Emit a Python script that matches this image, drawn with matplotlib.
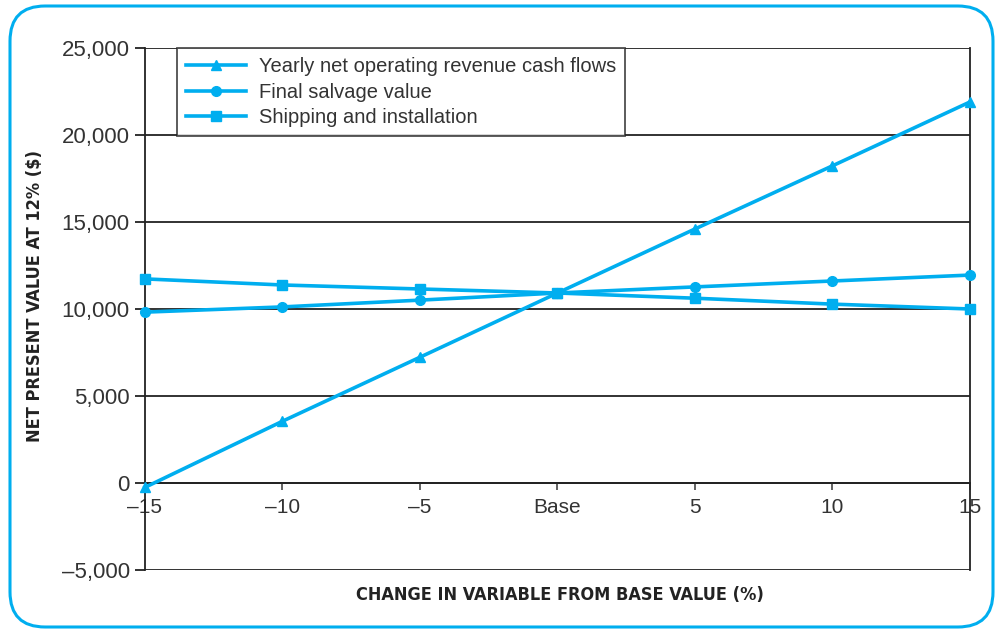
import numpy as np
import matplotlib
matplotlib.use("Agg")
import matplotlib.pyplot as plt
from matplotlib.patches import FancyBboxPatch

# change from base value (%)
x_vals = [-15, -10, -5, 0, 5, 10, 15]
x_labels = ['\u201315', '\u201310', '\u20135', 'Base', '5', '10', '15']

revenue = [-250, 3550, 7230, 10920, 14600, 18230, 21900]
salvage = [9820, 10120, 10510, 10920, 11270, 11610, 11950]
shipping = [11730, 11380, 11150, 10920, 10620, 10280, 10000]

y_ticks = [-5000, 0, 5000, 10000, 15000, 20000, 25000]
y_labels = ['\u20135,000', '0', '5,000', '10,000', '15,000', '20,000', '25,000']

blue = '#00AEEF'
plt.rcParams['font.family'] = ['Liberation Sans', 'DejaVu Sans']

fig = plt.figure(figsize=(10.03, 6.33), dpi=100)
W, H = 1003, 633
ax = fig.add_axes([145 / W, 1 - 570 / H, (970 - 145) / W, (570 - 48) / H])

# rounded border round the figure
border = FancyBboxPatch((10 / W, 6 / H), (993 - 10) / W, (627 - 6) / H,
                        boxstyle="round,pad=0,rounding_size=0.035",
                        transform=fig.transFigure, fill=False,
                        edgecolor=blue, linewidth=2.2, mutation_aspect=W / H)
fig.patches.append(border)

ax.plot(x_vals, revenue, color=blue, lw=2.6, marker='^', ms=7, label='Yearly net operating revenue cash flows', zorder=3, clip_on=False)
ax.plot(x_vals, salvage, color=blue, lw=2.6, marker='o', ms=7, label='Final salvage value', zorder=3, clip_on=False)
ax.plot(x_vals, shipping, color=blue, lw=2.6, marker='s', ms=7, label='Shipping and installation', zorder=3, clip_on=False)

ax.set_xlim(-15, 15)
ax.set_ylim(-5000, 25000)

ax.spines['bottom'].set_position(('data', 0))
ax.spines['top'].set_visible(False)
for s in ['left', 'right', 'bottom']:
    ax.spines[s].set_color('#222222')
    ax.spines[s].set_linewidth(1.3)

ax.set_yticks(y_ticks)
ax.set_yticklabels(y_labels)
ax.set_xticks(x_vals)
ax.set_xticklabels(x_labels)

for y in y_ticks:
    ax.axhline(y, color='#222222', lw=1.3, zorder=1)

ax.tick_params(axis='y', length=7, width=1.3, color='#222222', pad=4,
               labelsize=16, labelcolor='#333333')
ax.tick_params(axis='x', length=5, width=1.3, color='#555555', pad=6,
               labelsize=15, labelcolor='#333333')

lab_font = dict(fontsize=13, fontweight='bold', fontstretch='condensed',
                family='DejaVu Sans', color='#222222')
fig.text(35 / W, 1 - 296 / H, 'NET PRESENT VALUE AT 12% ($)', rotation=90,
         ha='center', va='center', **lab_font)
fig.text((362 + 757) / 2 / W, 1 - 595 / H, 'CHANGE IN VARIABLE FROM BASE VALUE (%)',
         ha='center', va='center', **lab_font)

leg = ax.legend(loc='upper left', bbox_to_anchor=(32 / 825, 1.0), fontsize=14.5,
                frameon=True, fancybox=False, edgecolor='#222222', handlelength=3,
                borderaxespad=0, labelspacing=0.33, borderpad=0.45, handletextpad=0.6)
leg.get_frame().set_linewidth(1.3)
for t in leg.get_texts():
    t.set_color('#333333')

fig.savefig('out.png', dpi=100)
